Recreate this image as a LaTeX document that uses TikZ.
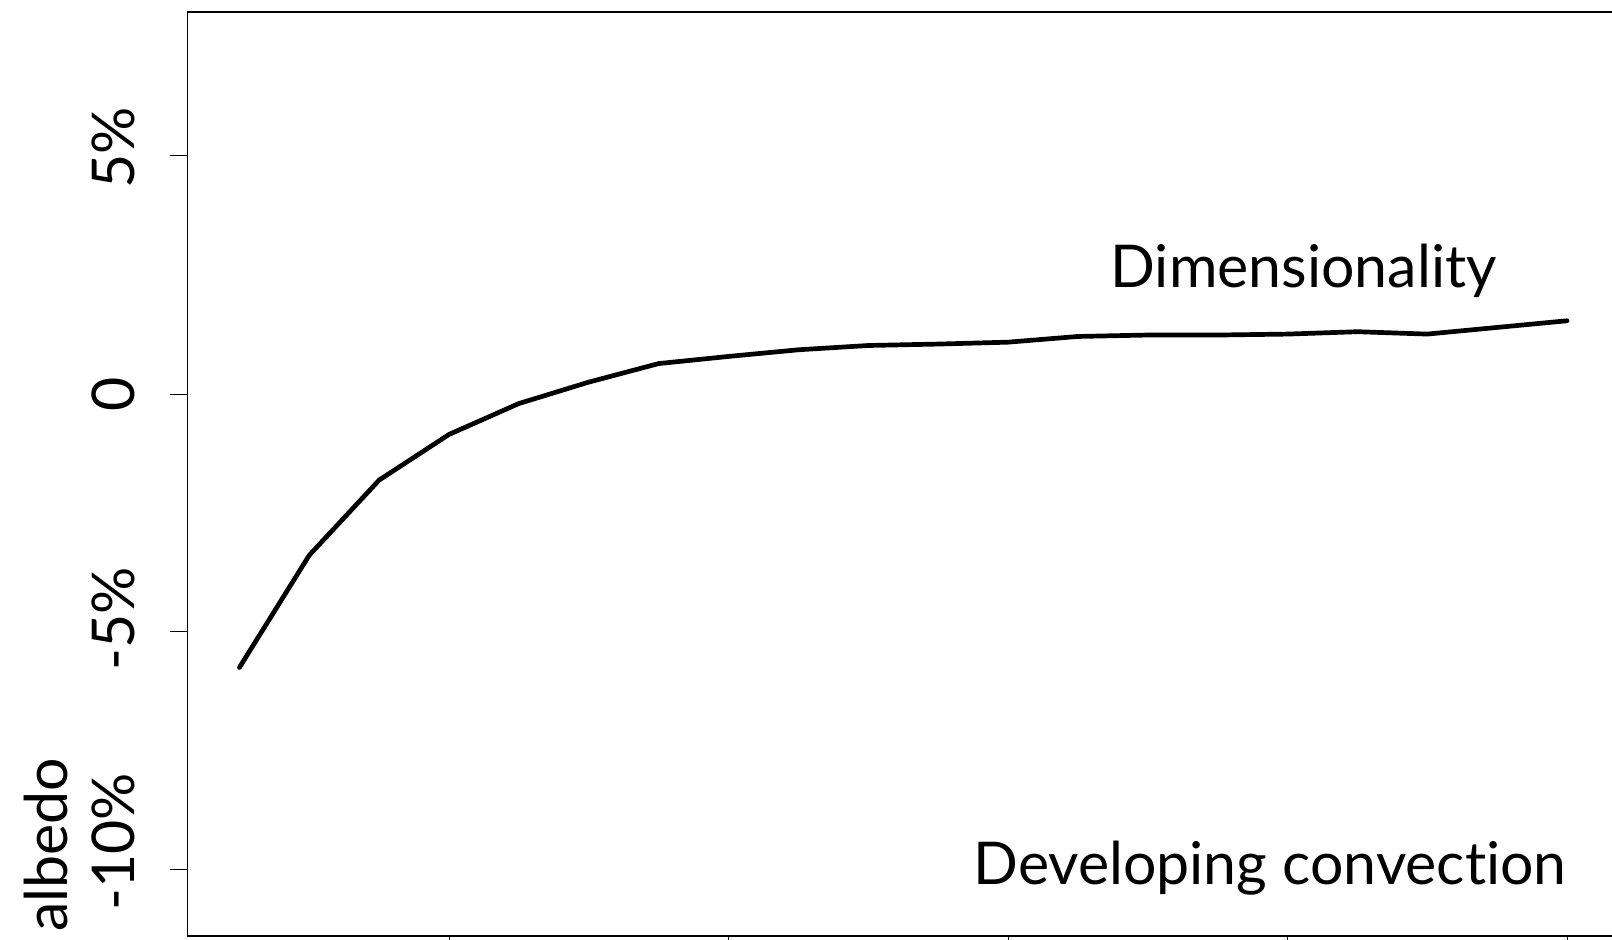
\documentclass[tikz,border=0pt]{standalone}
\usepackage{fontspec}
\setmainfont[Ligatures=NoCommon]{Lato}
\tikzset{
  plotlabel/.style={inner sep=0pt,font=\fontsize{29.5}{30}\selectfont},
  ticklabel/.style={plotlabel,rotate=90,anchor=base},
  axisline/.style={line width=0.75pt},
  tickline/.style={line width=0.5pt}
}
\begin{document}
\begin{tikzpicture}[x=0.5pt,y=-0.5pt]
\useasboundingbox (0,0) rectangle (1612,939);
\clip (0,0) rectangle (1612,939);

\draw[axisline] (1700,12) -- (187.7,12) -- (187.7,936) -- (1700,936);
\foreach \yy/\lab/\nm in {148/{5\%}/lab5, 394/{0}/lab0, 619/{-5\%}/labm5, 842/{-10\%}/labm10}
  \node[ticklabel] (\nm) at (134,\yy) {\lab};
\foreach \yy in {155.7,394,631,869.7}
  \draw[tickline] (170,\yy) -- (187.7,\yy);
\foreach \xx in {449,728.5,1008,1287.5,1567}
  \draw[tickline] (\xx,936) -- (\xx,950);
\node[ticklabel] (ylab) at (67,845) {albedo};

\node[plotlabel,anchor=base east] (dimlab) at (1497,287) {Dimensionality};
\node[plotlabel,anchor=base east] (convlab) at (1567,884) {Developing convection};

\begin{scope}[shift={(169.525,394)},x=34.9375pt,y=23.78pt]
\draw[line width=2.35pt,line cap=round,line join=round] plot coordinates {
  (1,-5.75) (2,-3.39) (3,-1.81) (4,-0.85) (5,-0.20) (6,0.25) (7,0.64)
  (8,0.79) (9,0.93) (10,1.02) (11,1.05) (12,1.09) (13,1.21) (14,1.24)
  (15,1.24) (16,1.26) (17,1.31) (18,1.26) (19,1.40) (20,1.54)};
\end{scope}

\end{tikzpicture}
\end{document}
